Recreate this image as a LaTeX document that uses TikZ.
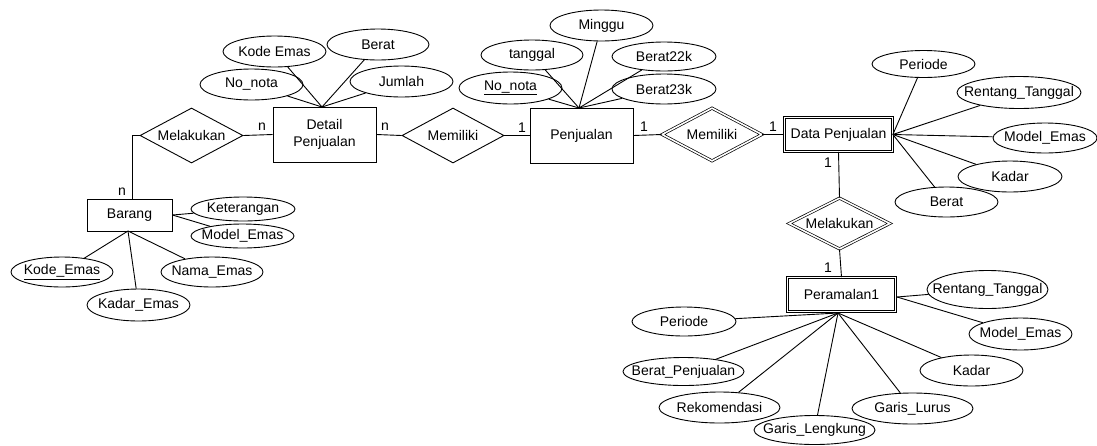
\documentclass[tikz,border=0pt]{standalone}
\usepackage{fontspec}
\setmainfont{Liberation Sans}
\usetikzlibrary{shapes.geometric}
\newcommand\zw[1]{\makebox[0pt]{#1}}
\tikzset{
  base/.style={font=\fontsize{14}{16.5}\selectfont, line width=0.9pt},
  ent/.style={base, draw, rectangle, inner sep=0pt, align=center},
  wek/.style={ent, double, double distance=1.6pt, line width=0.7pt},
  rel/.style={base, draw, diamond, inner sep=0pt},
  wrel/.style={rel, double, double distance=1.6pt, line width=0.7pt},
  attr/.style={base, draw, ellipse, inner sep=0pt},
  card/.style={font=\fontsize{14}{16}\selectfont, inner sep=0pt},
  conn/.style={line width=0.9pt}
}
\begin{document}
\begin{tikzpicture}[x=1pt,y=-1pt]
\useasboundingbox (0,0) rectangle (1097,445);
% entities
\node[ent, minimum width=103pt, minimum height=55pt] (detail) at (324.5,134.5) {Detail\\Penjualan};
\node[ent, minimum width=103pt, minimum height=55pt] (penj) at (581.5,135.5) {Penjualan};
\node[ent, minimum width=85pt, minimum height=32pt] (barang) at (129.5,215) {Barang};
\node[wek, minimum width=108pt, minimum height=34pt] (datap) at (838.5,134.5) {Data Penjualan};
\node[wek, minimum width=108pt, minimum height=34pt] (peram) at (841.5,294.5) {Peramalan1};
% relationships
\node[rel, minimum width=103pt, minimum height=55pt] (mel1) at (191.5,135.5) {\zw{Melakukan}};
\node[rel, minimum width=102pt, minimum height=55pt] (mem1) at (453,135.5) {\zw{Memiliki}};
\node[wrel, minimum width=100pt, minimum height=53pt] (mem2) at (712,134.5) {\zw{Memiliki}};
\node[wrel, minimum width=101pt, minimum height=51pt] (mel2) at (839.5,223.5) {\zw{Melakukan}};
% Barang attributes
\node[attr, minimum width=104pt, minimum height=24pt] (ket) at (243,209) {\zw{Keterangan}};
\node[attr, minimum width=103pt, minimum height=24pt] (bme) at (242.5,236) {\zw{Model\_Emas}};
\node[attr, minimum width=102pt, minimum height=30pt] (kode) at (62,272) {\zw{\underline{Kode\_Emas}}};
\node[attr, minimum width=102pt, minimum height=30pt] (nama) at (212,272) {\zw{Nama\_Emas}};
\node[attr, minimum width=103pt, minimum height=32pt] (kadare) at (138.5,305) {\zw{Kadar\_Emas}};
% Detail attributes
\node[attr, minimum width=103pt, minimum height=31pt] (dkode) at (274.5,51.5) {\zw{Kode Emas}};
\node[attr, minimum width=102pt, minimum height=31pt] (dberat) at (378,44.5) {\zw{Berat}};
\node[attr, minimum width=103pt, minimum height=31pt] (dnota) at (251.5,84.5) {\zw{No\_nota}};
\node[attr, minimum width=103pt, minimum height=31pt] (djum) at (401.5,81.5) {\zw{Jumlah}};
% Penjualan attributes
\node[attr, minimum width=103pt, minimum height=31pt] (minggu) at (601.5,25.5) {\zw{Minggu}};
\node[attr, minimum width=102pt, minimum height=30pt] (tgl) at (532,55) {\zw{tanggal}};
\node[attr, minimum width=104pt, minimum height=29pt] (b22) at (664,56.5) {\zw{Berat22k}};
\node[attr, minimum width=103pt, minimum height=32pt] (pnota) at (510.5,88) {\zw{\underline{No\_nota}}};
\node[attr, minimum width=104pt, minimum height=30pt] (b23) at (664,89) {\zw{Berat23k}};
% Data Penjualan attributes
\node[attr, minimum width=103pt, minimum height=27pt] (dper) at (923.5,64) {\zw{Periode}};
\node[attr, minimum width=124pt, minimum height=32pt] (drt) at (1019,92.5) {\zw{Rentang\_Tanggal}};
\node[attr, minimum width=104pt, minimum height=30pt] (dme) at (1045,138) {\zw{Model\_Emas}};
\node[attr, minimum width=104pt, minimum height=31pt] (dkad) at (1010,176.5) {\zw{Kadar}};
\node[attr, minimum width=103pt, minimum height=30pt] (dber) at (946.5,202) {\zw{Berat}};
% Peramalan attributes
\node[attr, minimum width=104pt, minimum height=29pt] (pper) at (684,321.5) {\zw{Periode}};
\node[attr, minimum width=121pt, minimum height=28pt] (pbp) at (683.5,371.5) {\zw{Berat\_Penjualan}};
\node[attr, minimum width=121pt, minimum height=31pt] (prek) at (719.5,407.5) {\zw{Rekomendasi}};
\node[attr, minimum width=121pt, minimum height=29pt] (pgl) at (814.5,430) {\zw{Garis\_Lengkung}};
\node[attr, minimum width=121pt, minimum height=31pt] (pglu) at (912.5,408.5) {\zw{Garis\_Lurus}};
\node[attr, minimum width=103pt, minimum height=31pt] (pkad) at (971.5,370.5) {\zw{Kadar}};
\node[attr, minimum width=103pt, minimum height=32pt] (pme) at (1020.5,334) {\zw{Model\_Emas}};
\node[attr, minimum width=121pt, minimum height=38pt] (prt) at (987.5,289.5) {\zw{Rentang\_Tanggal}};
% cardinalities
\node[card] (c1) at (262,127) {n};
\node[card] (c2) at (385,127) {n};
\node[card] (c3) at (522,128) {1};
\node[card] (c4) at (644,127) {1};
\node[card] (c5) at (773,127) {1};
\node[card] (c6) at (828,163) {1};
\node[card] (c7) at (828,268) {1};
\node[card] (c8) at (122,192) {n};
% convergence points
\coordinate (melc) at (132,135.5);
\coordinate (bS) at (128,231);
\coordinate (dN) at (322,107);
\coordinate (pN) at (579,108);
\coordinate (rS) at (838,313);
\coordinate (rE) at (897,297);
% relationship lines
\draw[conn] (mel1.west) -- (melc) -- (melc |- barang.north);
\draw[conn] (mel1.east) -- (detail.west);
\draw[conn] (detail.east) -- (mem1.west);
\draw[conn] (mem1.east) -- (penj.west);
\draw[conn] (penj.east) -- (mem2.west);
\draw[conn] (mem2.east) -- (datap.west);
\draw[conn] (datap.south) -- (mel2.north);
\draw[conn] (mel2.south) -- (peram.north);
% attribute lines
\draw[conn] (barang.east) -- (ket);
\draw[conn] (barang.east) -- (bme);
\draw[conn] (bS) -- (kode);
\draw[conn] (bS) -- (nama);
\draw[conn] (bS) -- (kadare);
\draw[conn] (dN) -- (dkode);
\draw[conn] (dN) -- (dberat);
\draw[conn] (dN) -- (dnota);
\draw[conn] (dN) -- (djum);
\draw[conn] (pN) -- (minggu);
\draw[conn] (pN) -- (tgl);
\draw[conn] (pN) -- (b22);
\draw[conn] (pN) -- (pnota);
\draw[conn] (pN) -- (b23);
\draw[conn] (datap.east) -- (dper);
\draw[conn] (datap.east) -- (drt);
\draw[conn] (datap.east) -- (dme);
\draw[conn] (datap.east) -- (dkad);
\draw[conn] (datap.east) -- (dber);
\draw[conn] (rS) -- (pper);
\draw[conn] (rS) -- (pbp);
\draw[conn] (rS) -- (prek);
\draw[conn] (rS) -- (pgl);
\draw[conn] (rS) -- (pglu);
\draw[conn] (rS) -- (pkad);
\draw[conn] (rE) -- (pme);
\draw[conn] (rE) -- (prt);
\end{tikzpicture}
\end{document}
